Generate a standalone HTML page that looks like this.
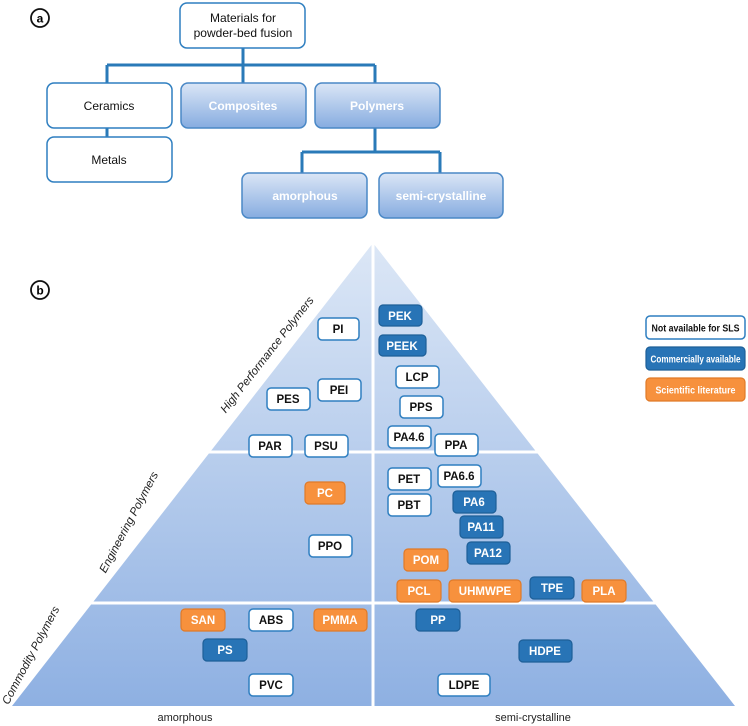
<!DOCTYPE html>
<html><head><meta charset="utf-8"><style>
html,body{margin:0;padding:0;background:#fff;}
svg{display:block;font-family:"Liberation Sans",Arial,sans-serif;}
.w{fill:#fff;stroke:#2f7fc0;stroke-width:1.5}
.b{fill:#2874b6;stroke:#1d5f98;stroke-width:1.2}
.o{fill:#f7913d;stroke:#e07a28;stroke-width:1.2}
.tk{font-size:11.5px;font-weight:bold;fill:#111;text-anchor:middle}
.tw{font-size:11.5px;font-weight:bold;fill:#fff;text-anchor:middle}
.lg{font-size:10px;font-weight:bold;text-anchor:middle}
.g{fill:url(#bg);stroke:#4a88c6;stroke-width:1.5}
.gt{font-size:12px;font-weight:bold;fill:#fff;text-anchor:middle}
.nt{font-size:12px;fill:#111;text-anchor:middle}
.ln{stroke:#2a7ab8;stroke-width:3;fill:none}
.side{font-size:11.5px;fill:#222;font-style:italic;text-anchor:middle}
</style></head><body>
<svg width="748" height="726" viewBox="0 0 748 726">
<defs>
<linearGradient id="bg" x1="0" y1="0" x2="0" y2="1"><stop offset="0" stop-color="#dbe6f6"/><stop offset="1" stop-color="#86ace0"/></linearGradient>
<linearGradient id="pg" x1="0" y1="0" x2="0" y2="1"><stop offset="0" stop-color="#dce7f6"/><stop offset="1" stop-color="#8eb0e2"/></linearGradient>
</defs>
<circle cx="40" cy="18" r="9" fill="#fff" stroke="#111" stroke-width="1.8"/>
<text x="40" y="22.5" font-size="12" font-weight="bold" text-anchor="middle">a</text>
<path class="ln" d="M243 48V65M107 65H375M107 65V83M243 65V83M375 65V83M107 128V137M375 128V152M302 152H440M302 152V173M440 152V173"/>
<rect class="w" x="180" y="3" width="125" height="45" rx="7"/>
<text class="nt" x="243" y="22">Materials for</text>
<text class="nt" x="243" y="37">powder-bed fusion</text>
<rect class="w" x="47" y="83" width="125" height="45" rx="7"/><text class="nt" x="109" y="110">Ceramics</text>
<rect class="w" x="47" y="137" width="125" height="45" rx="7"/><text class="nt" x="109" y="164">Metals</text>
<rect class="g" x="181" y="83" width="125" height="45" rx="7"/><text class="gt" x="243" y="110">Composites</text>
<rect class="g" x="315" y="83" width="125" height="45" rx="7"/><text class="gt" x="377" y="110">Polymers</text>
<rect class="g" x="242" y="173" width="125" height="45" rx="7"/><text class="gt" x="305" y="200">amorphous</text>
<rect class="g" x="379" y="173" width="124" height="45" rx="7"/><text class="gt" x="441" y="200">semi-crystalline</text>
<circle cx="40" cy="290" r="9" fill="#fff" stroke="#111" stroke-width="1.8"/>
<text x="40" y="294.5" font-size="12" font-weight="bold" text-anchor="middle">b</text>
<polygon points="373,243 735,706 12,706" fill="url(#pg)"/>
<path d="M373 243V706M208 452H538M90 603H656" stroke="#fff" stroke-width="3"/>
<text class="side" transform="translate(270,357) rotate(-52)">High Performance Polymers</text>
<text class="side" transform="translate(132,524) rotate(-62)">Engineering Polymers</text>
<text class="side" transform="translate(34,657) rotate(-62)">Commodity Polymers</text>
<text x="185" y="721" font-size="11" text-anchor="middle" fill="#222">amorphous</text>
<text x="533" y="721" font-size="11" text-anchor="middle" fill="#222">semi-crystalline</text>
<g>
<rect class="w" x="318" y="318" width="41" height="22" rx="4"/><text class="tk" x="338" y="333">PI</text>
<rect class="b" x="379" y="305" width="43" height="21" rx="4"/><text class="tw" x="400" y="320">PEK</text>
<rect class="b" x="379" y="335" width="47" height="21" rx="4"/><text class="tw" x="402" y="350">PEEK</text>
<rect class="w" x="396" y="366" width="43" height="22" rx="4"/><text class="tk" x="417" y="381">LCP</text>
<rect class="w" x="267" y="388" width="43" height="22" rx="4"/><text class="tk" x="288" y="403">PES</text>
<rect class="w" x="318" y="379" width="43" height="22" rx="4"/><text class="tk" x="339" y="394">PEI</text>
<rect class="w" x="400" y="396" width="43" height="22" rx="4"/><text class="tk" x="421" y="411">PPS</text>
<rect class="w" x="249" y="435" width="43" height="22" rx="4"/><text class="tk" x="270" y="450">PAR</text>
<rect class="w" x="305" y="435" width="43" height="22" rx="4"/><text class="tk" x="326" y="450">PSU</text>
<rect class="w" x="388" y="426" width="43" height="22" rx="4"/><text class="tk" x="409" y="441">PA4.6</text>
<rect class="w" x="435" y="434" width="43" height="22" rx="4"/><text class="tk" x="456" y="449">PPA</text>
<rect class="w" x="388" y="468" width="43" height="22" rx="4"/><text class="tk" x="409" y="483">PET</text>
<rect class="w" x="438" y="465" width="43" height="22" rx="4"/><text class="tk" x="459" y="480">PA6.6</text>
<rect class="w" x="388" y="494" width="43" height="22" rx="4"/><text class="tk" x="409" y="509">PBT</text>
<rect class="b" x="453" y="491" width="43" height="22" rx="4"/><text class="tw" x="474" y="506">PA6</text>
<rect class="b" x="460" y="516" width="43" height="22" rx="4"/><text class="tw" x="481" y="531">PA11</text>
<rect class="b" x="467" y="542" width="43" height="22" rx="4"/><text class="tw" x="488" y="557">PA12</text>
<rect class="o" x="305" y="482" width="40" height="22" rx="4"/><text class="tw" x="325" y="497">PC</text>
<rect class="w" x="309" y="535" width="43" height="22" rx="4"/><text class="tk" x="330" y="550">PPO</text>
<rect class="o" x="404" y="549" width="44" height="22" rx="4"/><text class="tw" x="426" y="564">POM</text>
<rect class="o" x="397" y="580" width="44" height="22" rx="4"/><text class="tw" x="419" y="595">PCL</text>
<rect class="o" x="449" y="580" width="72" height="22" rx="4"/><text class="tw" x="485" y="595">UHMWPE</text>
<rect class="b" x="530" y="577" width="44" height="22" rx="4"/><text class="tw" x="552" y="592">TPE</text>
<rect class="o" x="582" y="580" width="44" height="22" rx="4"/><text class="tw" x="604" y="595">PLA</text>
<rect class="o" x="181" y="609" width="44" height="22" rx="4"/><text class="tw" x="203" y="624">SAN</text>
<rect class="w" x="249" y="609" width="44" height="22" rx="4"/><text class="tk" x="271" y="624">ABS</text>
<rect class="o" x="314" y="609" width="53" height="22" rx="4"/><text class="tw" x="340" y="624">PMMA</text>
<rect class="b" x="203" y="639" width="44" height="22" rx="4"/><text class="tw" x="225" y="654">PS</text>
<rect class="w" x="249" y="674" width="44" height="22" rx="4"/><text class="tk" x="271" y="689">PVC</text>
<rect class="b" x="416" y="609" width="44" height="22" rx="4"/><text class="tw" x="438" y="624">PP</text>
<rect class="b" x="519" y="640" width="53" height="22" rx="4"/><text class="tw" x="545" y="655">HDPE</text>
<rect class="w" x="438" y="674" width="52" height="22" rx="4"/><text class="tk" x="464" y="689">LDPE</text>
</g>
<rect class="w" x="646" y="316" width="99" height="23" rx="4"/><text class="lg" fill="#111" x="695.5" y="331.5" textLength="88" lengthAdjust="spacingAndGlyphs">Not available for SLS</text>
<rect class="b" x="646" y="347" width="99" height="23" rx="4"/><text class="lg" fill="#fff" x="695.5" y="362.5" textLength="90" lengthAdjust="spacingAndGlyphs">Commercially available</text>
<rect class="o" x="646" y="378" width="99" height="23" rx="4"/><text class="lg" fill="#fff" x="695.5" y="393.5" textLength="80" lengthAdjust="spacingAndGlyphs">Scientific literature</text>
</svg>
</body></html>
